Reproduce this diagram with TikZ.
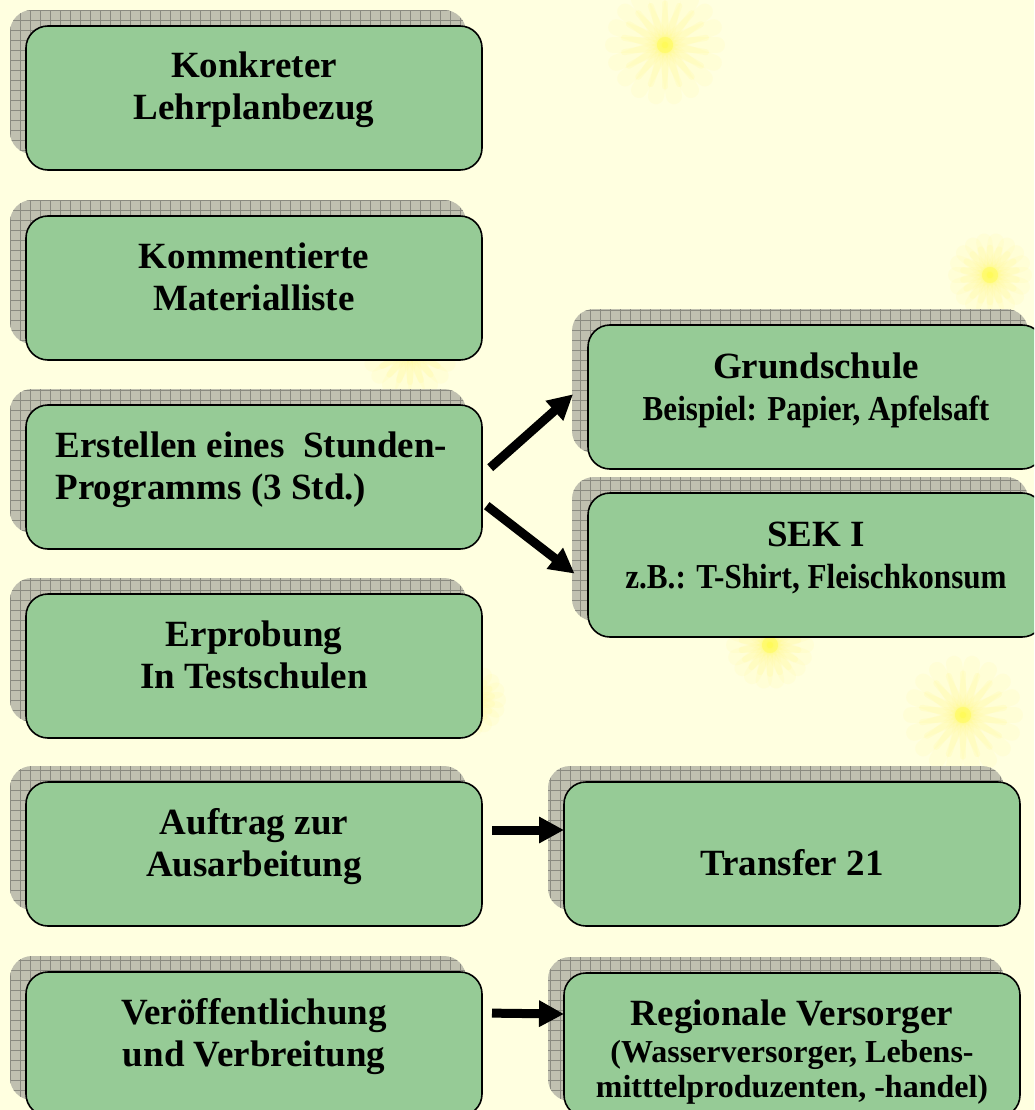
\documentclass[tikz,border=0pt]{standalone}
\usepackage{fontspec}
\setmainfont{Liberation Serif}
\usetikzlibrary{arrows.meta}
\definecolor{hgrund}{RGB}{255,255,224}
\definecolor{kasten}{RGB}{150,203,150}
\definecolor{schatten}{RGB}{192,192,176}
\definecolor{gitter}{RGB}{138,138,128}
\definecolor{blume}{RGB}{255,250,90}
\begin{document}
\begin{tikzpicture}[x=1pt,y=-1pt,
    box/.style={draw,line width=1.6pt,rounded corners=22pt,fill=kasten,
      minimum width=456pt,minimum height=144pt,inner sep=0pt,outer sep=0pt},
    txt/.style={anchor=base,align=center,font=\fontsize{37}{42}\selectfont\bfseries},
    pfeil/.style={line width=9pt,-{Triangle[length=25pt,width=25pt]}}]
  \useasboundingbox (0,0) rectangle (1034,1110);
  \clip (0,0) rectangle (1034,1110);
  \fill[hgrund] (0,0) rectangle (1034,1110);
  % Hintergrund: Pusteblumen
  \foreach \bx/\by/\br in {665/45/52, 990/275/34, 963/715/52, 410/350/40, 770/645/36, 470/700/28}
    \foreach \w in {0,20,...,359} {
      \draw[blume,opacity=0.07,line width=16pt,line cap=round] (\bx,\by) -- ++(\w:\br);
      \draw[blume,opacity=0.10,line width=6pt,line cap=round] (\bx,\by) -- ++(\w+10:0.8*\br);
    }
  % Kaesten mit Schatten
  \foreach \nm/\x/\y in {konk/26/26, komm/26/216, erst/26/405, erpr/26/594,
                         auft/26/782, veroe/26/972, grund/588/325, sek/588/493,
                         trans/564/782, regio/564/973} {
    \begin{scope}
      \clip[rounded corners=22pt] (\x-16,\y-16) rectangle ++(456,144);
      \fill[schatten] (\x-16,\y-16) rectangle ++(456,144);
      \draw[gitter,line width=0.8pt,step=10pt] (\x-16,\y-16) grid ++(456,144);
    \end{scope}
    \node[box] (\nm) at (\x+228,\y+72) {};
  }
  % Texte (Bezugspunkt: Grundlinie der letzten Zeile)
  \node[txt] (tkonk) at (254,120) {Konkreter\\Lehrplanbezug};
  \node[txt] (tkomm) at (254,310) {Kommentierte\\Materialliste};
  \node[txt,anchor=base west,align=left] (terst) at (52,499)
    {Erstellen eines~~Stunden-\\Programms (3 Std.)};
  \node[txt] (terpr) at (254,688) {Erprobung\\In Testschulen};
  \node[txt] (tauft) at (254,876) {Auftrag zur\\Ausarbeitung};
  \node[txt] (tveroe) at (254,1066) {Veröffentlichung\\und Verbreitung};
  \node[txt] (tgrund) at (816,420)
    {Grundschule\\\fontsize{35}{42}\selectfont\scalebox{0.89}[1]{Beispiel: Papier, Apfelsaft}};
  \node[txt] (tsek) at (816,588)
    {SEK I\\\fontsize{35}{42}\selectfont\scalebox{0.89}[1]{z.B.: T-Shirt, Fleischkonsum}};
  \node[txt] (ttrans) at (792,875) {Transfer 21};
  \node[txt] (tregio) at (792,1097)
    {Regionale Versorger\\[-5pt]\fontsize{32}{35}\selectfont(Wasserversorger, Lebens-\\[-7pt]
     \fontsize{32}{35}\selectfont mitttelproduzenten, -handel)};
  % Pfeile
  \draw[pfeil,shorten <=11pt,shorten >=20pt] ([yshift=2pt]erst.east) -- ([yshift=16pt]grund.west);
  \draw[pfeil,shorten <=6pt,shorten >=17pt] ([yshift=-25pt]erst.east) -- ([yshift=-19pt]sek.west);
  \draw[pfeil,shorten <=10pt] ([yshift=24pt]auft.east) -- ([yshift=24pt]trans.west);
  \draw[pfeil,shorten <=10pt] ([yshift=31pt]veroe.east) -- ([yshift=31pt]regio.west);
\end{tikzpicture}
\end{document}
